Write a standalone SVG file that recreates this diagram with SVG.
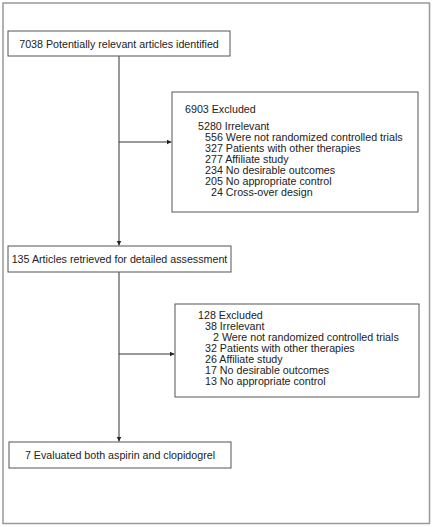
<svg xmlns="http://www.w3.org/2000/svg" width="433" height="527" viewBox="0 0 433 527">
<style>
.frame{fill:#fff;stroke:#999;stroke-width:1.5}
.box{fill:#fff;stroke:#555;stroke-width:1}
.t{font-family:"Liberation Sans",Arial,sans-serif;font-size:10.7px;fill:#222}
.c{text-anchor:middle}
.ln{stroke:#333;stroke-width:1;fill:none}
</style>
<defs>
<marker id="ah" markerWidth="6" markerHeight="6" refX="5" refY="3" orient="auto" markerUnits="userSpaceOnUse">
<path d="M0,0.5 L5,3 L0,5.5 Z" fill="#222"/>
</marker>
</defs>
<rect class="frame" x="3" y="3" width="426.5" height="520.5"/>
<g id="connectors">
<line class="ln" x1="119" y1="56" x2="119" y2="245.5" marker-end="url(#ah)"/>
<line class="ln" x1="119" y1="142" x2="171.5" y2="142" marker-end="url(#ah)"/>
<line class="ln" x1="119" y1="272" x2="119" y2="441.5" marker-end="url(#ah)"/>
<line class="ln" x1="119" y1="354" x2="174.5" y2="354" marker-end="url(#ah)"/>
</g>
<g id="n1">
<rect class="box" x="8" y="31" width="222" height="25"/>
<text class="t c" x="119" y="47.5">7038 Potentially relevant articles identified</text>
</g>
<g id="ex1">
<rect class="box" x="172" y="92" width="246" height="120"/>
<text class="t" x="185" y="113">6903 Excluded</text>
<text class="t" x="198" y="129.5">5280 Irrelevant</text>
<text class="t" x="205" y="140.5">556 Were not randomized controlled trials</text>
<text class="t" x="205" y="151.5">327 Patients with other therapies</text>
<text class="t" x="205" y="162.5">277 Affiliate study</text>
<text class="t" x="205" y="173.5">234 No desirable outcomes</text>
<text class="t" x="205" y="184.5">205 No appropriate control</text>
<text class="t" x="211" y="196">24 Cross-over design</text>
</g>
<g id="n2">
<rect class="box" x="8" y="246" width="223" height="26"/>
<text class="t c" x="119.5" y="262.5">135 Articles retrieved for detailed assessment</text>
</g>
<g id="ex2">
<rect class="box" x="175" y="304" width="244" height="93"/>
<text class="t" x="198" y="318.5">128 Excluded</text>
<text class="t" x="205" y="329.5">38 Irrelevant</text>
<text class="t" x="213" y="340.5">2 Were not randomized controlled trials</text>
<text class="t" x="205" y="351.5">32 Patients with other therapies</text>
<text class="t" x="205" y="362.5">26 Affiliate study</text>
<text class="t" x="205" y="373.5">17 No desirable outcomes</text>
<text class="t" x="205" y="384.5">13 No appropriate control</text>
</g>
<g id="n3">
<rect class="box" x="9" y="442" width="222" height="26"/>
<text class="t c" x="120" y="458.5">7 Evaluated both aspirin and clopidogrel</text>
</g>
</svg>
